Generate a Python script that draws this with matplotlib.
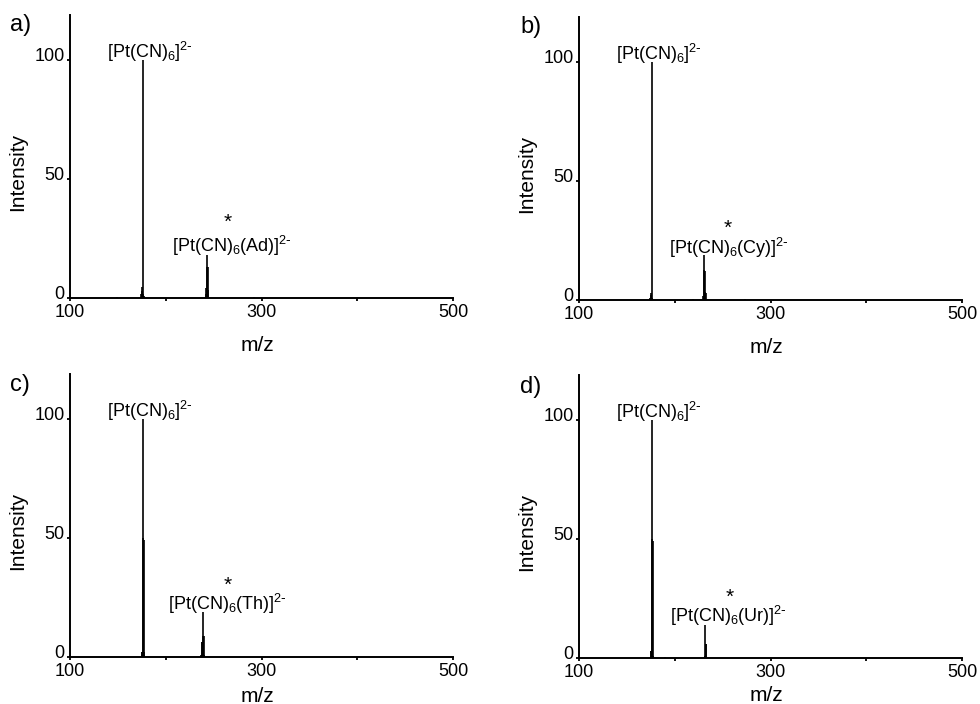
import matplotlib
matplotlib.use('Agg')
import matplotlib.pyplot as plt
import matplotlib.transforms as mtransforms

plt.rcParams['font.family'] = ['Liberation Sans', 'DejaVu Sans']
plt.rcParams['mathtext.default'] = 'regular'

# peak lists (m/z, relative intensity)
a_mz = [149, 174.5, 175, 175.5, 176, 176.5, 177, 242, 242.5, 243, 243.5, 244, 244.5, 292]
a_int = [0.6, 1.5, 4.5, 3, 100, 1.5, 0.8, 1.5, 4, 18, 13, 13, 3.5, 0.6]

b_mz = [174.5, 175, 175.5, 176, 176.5, 219, 230, 230.5, 231, 231.5, 232, 232.5, 273]
b_int = [1, 3, 2, 100, 1, 0.5, 1.5, 19, 12.6, 12, 3.5, 3, 0.5]

c_mz = [175, 175.5, 176, 176.5, 177, 177.5, 237, 237.5, 238, 238.5, 239, 239.5, 240]
c_int = [2, 2, 100, 50, 49, 2, 1, 6.5, 6.5, 19, 9, 9, 1]

d_mz = [175, 175.5, 176, 176.5, 177, 177.5, 190, 231.5, 232, 232.5, 233]
d_int = [3, 3, 100, 50, 49, 1, 0.5, 1, 13.8, 6, 6]

panel_tags = ['a)', 'b)', 'c)', 'd)']
adducts = ['Ad', 'Cy', 'Th', 'Ur']
main_label = r'[Pt(CN)$_6$]$^{2\text{-}}$'
# left edge / baseline of adduct label, asterisk position (data coords)
adduct_lab_xy = [(206.8, 19.5), (194.4, 19.4), (202.6, 19.9), (195, 15.1)]
star_xy = [(264.6, 32.0), (255, 30.0), (264.6, 30.2), (257, 25.5)]

xticks = [100, 200, 300, 400, 500]
xticklabels = ['100', '', '300', '', '500']
yticks = [0, 50, 100]

W, H = 980, 704
# axes boxes in pixels: left, right, top, bottom
boxes = [(70, 453, 15, 298), (579, 962, 17, 300),
         (70, 453, 374, 657), (579, 962, 375, 658)]
tag_pos = [(10, 14), (520, 16), (10, 374), (520, 376)]
xlab_y = [-0.135, -0.135, -0.105, -0.098]

fig = plt.figure(figsize=(W / 100, H / 100), dpi=100)

spectra = [(a_mz, a_int), (b_mz, b_int), (c_mz, c_int), (d_mz, d_int)]
for i, (mz, inten) in enumerate(spectra):
    l, r, t, b = boxes[i]
    ax = fig.add_axes([l / W, 1 - b / H, (r - l) / W, (b - t) / H])
    ax.vlines(mz, 0, inten, color='k', lw=1.2)
    ax.set_xlim(100, 500)
    ax.set_ylim(0, 119)
    for s in ['top', 'right']:
        ax.spines[s].set_visible(False)
    for s in ['left', 'bottom']:
        ax.spines[s].set_linewidth(1.4)
    ax.set_xticks(xticks)
    ax.set_xticklabels(xticklabels)
    ax.set_yticks(yticks)
    ax.tick_params(direction='out', length=2.5, width=1.3, labelsize=13, pad=1.5,
                   colors='k')
    off = mtransforms.ScaledTranslation(0, 4 / 72, fig.dpi_scale_trans)
    for lab in ax.get_yticklabels():
        lab.set_transform(lab.get_transform() + off)
    ax.set_ylabel('Intensity', fontsize=15)
    ax.yaxis.set_label_coords(-0.112, 0.445)
    ax.set_xlabel('m/z', fontsize=15)
    ax.xaxis.set_label_coords(0.488, xlab_y[i])

    ax.text(139, 101, main_label, fontsize=13, ha='left', va='baseline')
    ax.text(adduct_lab_xy[i][0], adduct_lab_xy[i][1],
            r'[Pt(CN)$_6$(' + adducts[i] + r')]$^{2\text{-}}$',
            fontsize=13, ha='left', va='baseline')
    ax.text(star_xy[i][0], star_xy[i][1], '*', fontsize=15, ha='center', va='center')

    fig.text(tag_pos[i][0] / W, 1 - tag_pos[i][1] / H, panel_tags[i],
             fontsize=17, ha='left', va='top')

fig.savefig('out.png', dpi=100)
